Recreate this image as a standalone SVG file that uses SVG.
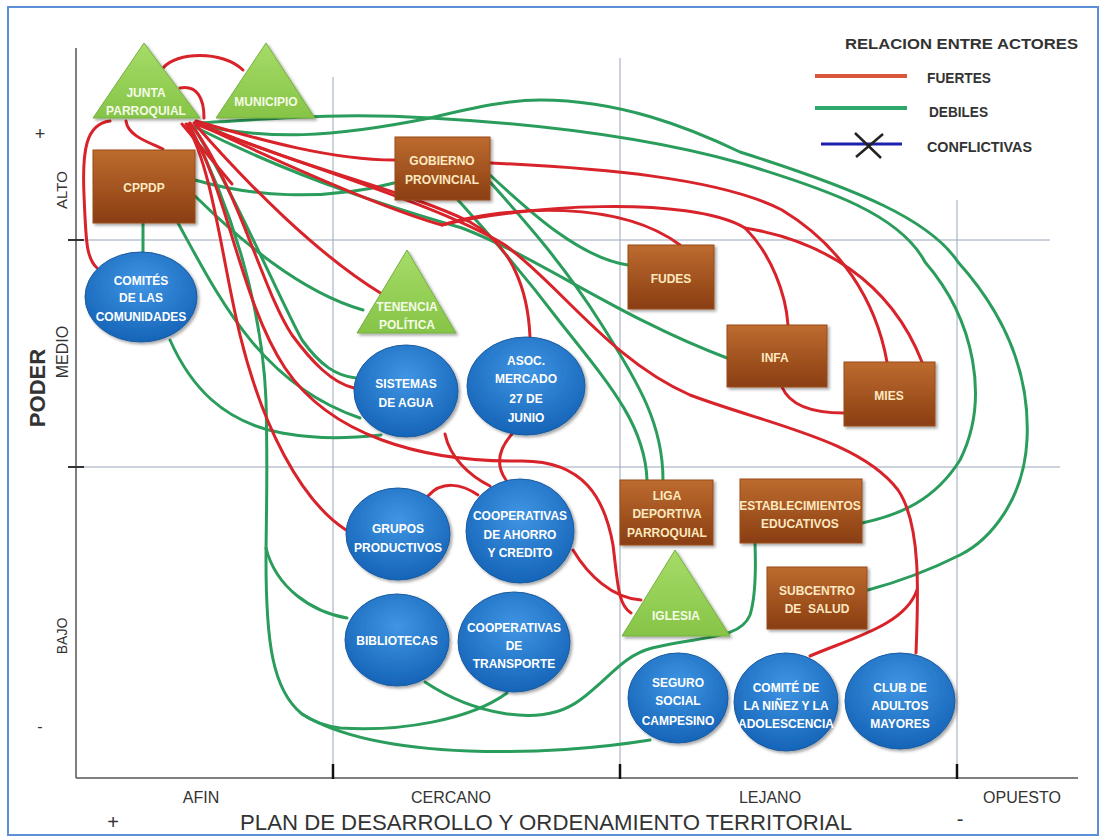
<svg xmlns="http://www.w3.org/2000/svg" width="1105" height="840" viewBox="0 0 1105 840">
<defs>
<linearGradient id="gBrown" x1="0" y1="0" x2="0" y2="1"><stop offset="0" stop-color="#bd6b2f"/><stop offset="1" stop-color="#8a3e12"/></linearGradient>
<radialGradient id="gBlue" cx="50%" cy="35%" r="65%"><stop offset="0" stop-color="#3f95e3"/><stop offset="1" stop-color="#1664b8"/></radialGradient>
<linearGradient id="gGreen" x1="0" y1="0" x2="0" y2="1"><stop offset="0" stop-color="#a6dc68"/><stop offset="1" stop-color="#86c447"/></linearGradient>
<filter id="sh" x="-20%" y="-20%" width="140%" height="140%"><feDropShadow dx="2" dy="2" stdDeviation="1.5" flood-color="#000" flood-opacity="0.35"/></filter>
</defs>
<style>
.ax{stroke:#555;stroke-width:1.5;fill:none}
.grid{stroke:#9aa6b8;stroke-width:1;fill:none}
.tick{stroke:#111;stroke-width:2.5}
.lbl{font-family:"Liberation Sans",Arial,sans-serif;fill:#333}
.r{fill:none;stroke:#d8232a;stroke-width:3;stroke-linecap:round}
.g{fill:none;stroke:#2a9d5c;stroke-width:3;stroke-linecap:round}
.rect{fill:url(#gBrown);stroke:#9a4a18;stroke-width:1;filter:url(#sh)}
.ell{fill:url(#gBlue);stroke:#1a5aa0;stroke-width:1;filter:url(#sh)}
.tri{fill:url(#gGreen);stroke:#74b03e;stroke-width:1;filter:url(#sh)}
.bt{font-family:"Liberation Sans",Arial,sans-serif;font-weight:bold;font-size:12px;fill:#fde9c0;text-anchor:middle}
.wt{font-family:"Liberation Sans",Arial,sans-serif;font-weight:bold;font-size:12px;fill:#ffffff;text-anchor:middle}
.gt{font-family:"Liberation Sans",Arial,sans-serif;font-weight:bold;font-size:12px;fill:#f4fbe6;text-anchor:middle}
.leg{font-family:"Liberation Sans",Arial,sans-serif;font-weight:bold;fill:#333}
</style>
<rect x="8" y="7" width="1090" height="828" fill="#ffffff" stroke="#5b8fd6" stroke-width="2"/>

<g id="axes">
<line class="grid" x1="333" y1="77" x2="333" y2="778"/>
<line class="grid" x1="620" y1="58" x2="620" y2="778"/>
<line class="grid" x1="957" y1="200" x2="957" y2="778"/>
<line class="grid" x1="68" y1="240" x2="1050" y2="240"/>
<line class="grid" x1="68" y1="467" x2="1060" y2="467"/>
<line class="ax" x1="76" y1="48" x2="76" y2="778"/>
<line class="ax" x1="76" y1="778" x2="1078" y2="778"/>
<line class="tick" x1="333" y1="764" x2="333" y2="779"/>
<line class="tick" x1="620" y1="764" x2="620" y2="779"/>
<line class="tick" x1="957" y1="764" x2="957" y2="779"/>
<line stroke="#333" stroke-width="2" x1="68" y1="240" x2="84" y2="240"/>
<line stroke="#333" stroke-width="2" x1="68" y1="467" x2="84" y2="467"/>
<text class="lbl" x="40" y="140" font-size="18" text-anchor="middle">+</text>
<text class="lbl" x="40" y="732" font-size="16" text-anchor="middle">-</text>
<text class="lbl" font-size="15" text-anchor="middle" transform="translate(67,190) rotate(-90)">ALTO</text>
<text class="lbl" font-size="16" text-anchor="middle" transform="translate(68,352) rotate(-90)">MEDIO</text>
<text class="lbl" font-size="22" font-weight="bold" fill="#111" text-anchor="middle" transform="translate(45,388) rotate(-90)">PODER</text>
<text class="lbl" font-size="14" text-anchor="middle" transform="translate(67,636) rotate(-90)">BAJO</text>
<text class="lbl" x="201" y="803" font-size="16" text-anchor="middle">AFIN</text>
<text class="lbl" x="451" y="803" font-size="16" text-anchor="middle">CERCANO</text>
<text class="lbl" x="770" y="803" font-size="16" text-anchor="middle">LEJANO</text>
<text class="lbl" x="1022" y="803" font-size="16" text-anchor="middle">OPUESTO</text>
<text class="lbl" x="113" y="829" font-size="20" text-anchor="middle">+</text>
<text class="lbl" x="240" y="830" font-size="22" textLength="612" lengthAdjust="spacingAndGlyphs" fill="#222">PLAN DE DESARROLLO Y ORDENAMIENTO TERRITORIAL</text>
<text class="lbl" x="960" y="826" font-size="20" text-anchor="middle">-</text>
</g>

<g id="legend">
<text class="leg" x="845" y="49" font-size="15" textLength="233" lengthAdjust="spacingAndGlyphs">RELACION ENTRE ACTORES</text>
<line x1="815" y1="76" x2="907" y2="76" stroke="#d9573b" stroke-width="4"/>
<text class="leg" x="927" y="83" font-size="14" textLength="64" lengthAdjust="spacingAndGlyphs">FUERTES</text>
<line x1="815" y1="108" x2="907" y2="108" stroke="#2ea86a" stroke-width="4"/>
<text class="leg" x="929" y="117" font-size="14" textLength="59" lengthAdjust="spacingAndGlyphs">DEBILES</text>
<line x1="821" y1="144" x2="902" y2="144" stroke="#2020b0" stroke-width="3"/>
<line x1="855" y1="133" x2="881" y2="158" stroke="#222" stroke-width="2.5"/>
<line x1="856" y1="157" x2="883" y2="134" stroke="#222" stroke-width="2.5"/>
<text class="leg" x="927" y="152" font-size="14" textLength="105" lengthAdjust="spacingAndGlyphs">CONFLICTIVAS</text>
</g>

<g id="connectors">
<path class="g" d="M195,123 C260,120 330,112 430,118 C540,124 650,138 740,163 C830,190 900,215 925,262 C975,320 990,400 960,460 C935,500 900,515 862,523"/>
<path class="g" d="M197,125 C270,140 330,138 430,118 C480,106 510,100 540,100 C620,100 690,128 740,152 C860,190 930,220 958,262 C1010,320 1030,380 1027,440 C1024,500 990,540 960,555 C930,570 898,582 868,590"/>
<path class="g" d="M195,180 C250,196 322,202 394,183"/>
<path class="g" d="M490,175 C530,212 580,258 628,265"/>
<path class="g" d="M458,200 C490,235 522,272 560,322 C610,385 645,425 647,480"/>
<path class="g" d="M490,182 C522,218 562,262 600,322 C640,385 663,425 663,480"/>
<path class="g" d="M195,127 C300,180 400,210 462,228 C540,258 620,318 727,358"/>
<path class="g" d="M195,196 C240,240 300,292 363,310"/>
<path class="g" d="M178,223 C220,300 262,385 360,418"/>
<path class="g" d="M193,126 C238,200 280,300 302,340 C320,365 336,376 356,378"/>
<path class="g" d="M170,340 C190,385 222,422 282,433 C322,440 352,438 381,435"/>
<path class="g" d="M143,223 L143,252"/>
<path class="g" d="M190,127 C228,200 262,300 266,400 C268,480 266,520 266,560 C266,640 272,690 302,714 C380,762 552,756 650,740"/>
<path class="g" d="M266,548 C276,588 312,612 347,618"/>
<path class="g" d="M425,682 C470,712 540,730 580,700 C610,678 622,656 652,648 C700,636 740,640 750,615 C756,596 756,570 755,543"/>
<path class="g" d="M507,693 C470,720 400,732 340,728 C325,726 312,721 302,714"/>

<path class="r" d="M163,68 C176,52 222,50 243,70"/>
<path class="r" d="M126,121 C128,136 148,142 163,149"/>
<path class="r" d="M110,121 C86,124 82,150 84,195 C86,240 86,258 97,268"/>
<path class="r" d="M180,88 C197,85 204,98 204,118"/>
<path class="r" d="M186,124 C212,165 222,260 240,335 C262,425 300,500 346,530"/>
<path class="r" d="M188,124 C228,190 240,300 285,368 C330,435 420,462 520,461 C585,460 605,500 613,545 C618,585 618,605 631,613"/>
<path class="r" d="M190,123 C238,185 262,290 292,335 C312,362 332,383 354,388"/>
<path class="r" d="M194,123 C248,185 318,255 382,294"/>
<path class="r" d="M196,122 C300,168 405,190 470,222 C512,245 528,290 530,337"/>
<path class="r" d="M196,121 C260,140 332,160 394,160"/>
<path class="r" d="M196,124 C300,165 440,205 505,245 C560,285 610,360 690,395 C770,425 860,440 898,490 C922,525 918,600 916,653"/>
<path class="r" d="M196,123 C292,168 382,208 442,225 C510,205 620,200 680,245"/>
<path class="r" d="M442,225 C520,205 690,195 745,228 C772,255 786,295 788,325"/>
<path class="r" d="M745,228 C820,240 890,280 922,362"/>
<path class="r" d="M491,163 C600,168 720,178 782,210 C840,245 876,300 887,362"/>
<path class="r" d="M782,387 C790,406 815,413 844,413"/>
<path class="r" d="M810,656 C852,638 905,625 917,590"/>
<path class="r" d="M445,434 C450,458 470,476 490,486"/>
<path class="r" d="M512,434 C498,450 496,466 506,480"/>
<path class="r" d="M428,496 C442,480 462,484 478,495"/>
<path class="r" d="M573,550 C588,575 612,598 641,600"/>
<path class="r" d="M182,124 L232,184" stroke-width="5"/>
</g>

<g id="junta"><polygon class="tri" points="144,43 93,118 200,118"/><text class="gt" x="146" y="97">JUNTA</text><text class="gt" x="146" y="115">PARROQUIAL</text></g>
<g id="municipio"><polygon class="tri" points="266,43 216,118 315,118"/><text class="gt" x="266" y="106">MUNICIPIO</text></g>
<g id="tenencia"><polygon class="tri" points="407,250 357,333 456,333"/><text class="gt" x="407" y="311">TENENCIA</text><text class="gt" x="407" y="329">POLÍTICA</text></g>
<g id="iglesia"><polygon class="tri" points="675,550 622,636 730,636"/><text class="gt" x="676" y="620">IGLESIA</text></g>

<g id="cppdp"><rect class="rect" x="93" y="150" width="102" height="73"/><text class="bt" x="144" y="192">CPPDP</text></g>
<g id="gobierno"><rect class="rect" x="395" y="137" width="95" height="63"/><text class="bt" x="442" y="165">GOBIERNO</text><text class="bt" x="442" y="184">PROVINCIAL</text></g>
<g id="fudes"><rect class="rect" x="628" y="245" width="86" height="64"/><text class="bt" x="671" y="283">FUDES</text></g>
<g id="infa"><rect class="rect" x="727" y="325" width="100" height="62"/><text class="bt" x="775" y="362">INFA</text></g>
<g id="mies"><rect class="rect" x="844" y="362" width="91" height="64"/><text class="bt" x="889" y="400">MIES</text></g>
<g id="establecimientos"><rect class="rect" x="740" y="479" width="122" height="64"/><text class="bt" x="800" y="510">ESTABLECIMIENTOS</text><text class="bt" x="800" y="528">EDUCATIVOS</text></g>
<g id="subcentro"><rect class="rect" x="767" y="567" width="100" height="62"/><text class="bt" x="817" y="595">SUBCENTRO</text><text class="bt" x="817" y="613" xml:space="preserve">DE  SALUD</text></g>
<g id="liga"><rect class="rect" x="620" y="480" width="93" height="65"/><text class="bt" x="667" y="500">LIGA</text><text class="bt" x="667" y="518">DEPORTIVA</text><text class="bt" x="667" y="537">PARROQUIAL</text></g>

<g id="comites"><ellipse class="ell" cx="141" cy="297" rx="56" ry="45"/><text class="wt" x="141" y="285">COMITÉS</text><text class="wt" x="141" y="302">DE LAS</text><text class="wt" x="141" y="321">COMUNIDADES</text></g>
<g id="sistemas"><ellipse class="ell" cx="406" cy="391" rx="52" ry="46"/><text class="wt" x="406" y="388">SISTEMAS</text><text class="wt" x="406" y="407">DE AGUA</text></g>
<g id="asoc"><ellipse class="ell" cx="526" cy="386" rx="59" ry="49"/><text class="wt" x="526" y="365">ASOC.</text><text class="wt" x="526" y="383">MERCADO</text><text class="wt" x="526" y="403">27 DE</text><text class="wt" x="526" y="422">JUNIO</text></g>
<g id="grupos"><ellipse class="ell" cx="398" cy="534" rx="52" ry="46"/><text class="wt" x="398" y="533">GRUPOS</text><text class="wt" x="398" y="552">PRODUCTIVOS</text></g>
<g id="coopahorro"><ellipse class="ell" cx="520" cy="531" rx="54" ry="52"/><text class="wt" x="520" y="520">COOPERATIVAS</text><text class="wt" x="520" y="539">DE AHORRO</text><text class="wt" x="520" y="557">Y CREDITO</text></g>
<g id="bibliotecas"><ellipse class="ell" cx="397" cy="640" rx="52" ry="46"/><text class="wt" x="397" y="645">BIBLIOTECAS</text></g>
<g id="cooptransporte"><ellipse class="ell" cx="514" cy="642" rx="56" ry="50"/><text class="wt" x="514" y="632">COOPERATIVAS</text><text class="wt" x="514" y="650">DE</text><text class="wt" x="514" y="668">TRANSPORTE</text></g>
<g id="seguro"><ellipse class="ell" cx="678" cy="698" rx="50" ry="45"/><text class="wt" x="678" y="687">SEGURO</text><text class="wt" x="678" y="705">SOCIAL</text><text class="wt" x="678" y="725">CAMPESINO</text></g>
<g id="ninez"><ellipse class="ell" cx="786" cy="702" rx="52" ry="49"/><text class="wt" x="786" y="692">COMITÉ DE</text><text class="wt" x="786" y="710">LA NIÑEZ Y LA</text><text class="wt" x="786" y="728">ADOLESCENCIA</text></g>
<g id="club"><ellipse class="ell" cx="900" cy="701" rx="55" ry="48"/><text class="wt" x="900" y="692">CLUB DE</text><text class="wt" x="900" y="710">ADULTOS</text><text class="wt" x="900" y="728">MAYORES</text></g>
</svg>
